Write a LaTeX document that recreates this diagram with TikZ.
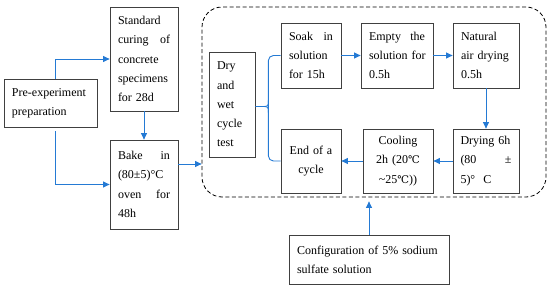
\documentclass[tikz,border=0pt]{standalone}
\usepackage{xcolor}
\usepackage{fontspec}
\setmainfont{Liberation Serif}
\newfontfamily\symfont{DejaVu Serif}
\usepackage{tikz}
\usetikzlibrary{arrows.meta, positioning, calc}
\definecolor{flowblue}{RGB}{36,122,212}
\definecolor{boxgray}{RGB}{64,64,64}
\newcommand{\bodyfs}{\fontsize{12pt}{19.3pt}\selectfont}
\newcommand{\degc}{{\symfont\fontsize{10.5pt}{19.3pt}\selectfont ℃}}

\begin{document}
\begin{tikzpicture}[x=1pt, y=-1pt, font=\bodyfs,
  box/.style={draw=boxgray, line width=0.8pt, inner xsep=8pt, inner ysep=0pt, align=left},
  cbox/.style={box, align=center},
  line/.style={draw=flowblue, line width=0.9pt},
  flow/.style={line, -{Triangle[length=6.5pt,width=6pt]}},
  loopbox/.style={draw=black, line width=0.8pt, dash pattern=on 4pt off 2.5pt, rounded corners=20pt}]
  \useasboundingbox (0,0) rectangle (550,289);

  % Preparation
  \node[box, text width=77pt, minimum height=48pt] (pre) at (50.5,103) {Pre-experiment\\preparation};
  \node[box, text width=52pt, minimum height=104pt] (std) at (144,59) {Standard\\curing\hfill of\\concrete\\specimens\\for~28d};
  \node[box, text width=52pt, minimum height=89pt] (bake) at (144,184.5) {Bake\hfill in\\(80±5)°C\\oven\hfill for\\48h};

  % Dry and wet cycle
  \node[loopbox, minimum width=344pt, minimum height=190pt] (loop) at (374,102) {};
  \node[box, text width=30pt, minimum height=105pt] (dry) at (232,104.5) {Dry\\and\\wet\\cycle\\test};
  \node[box, text width=44pt, minimum height=65pt] (soak) at (311,55.5) {Soak\hfill in\\solution\\for~15h};
  \node[box, text width=56pt, minimum height=65pt] (empty) at (397,55.5) {Empty\hfill the\\solution~for\\0.5h};
  \node[box, text width=50pt, minimum height=65pt] (natural) at (486,55.5) {Natural\\air~drying\\0.5h};
  \node[box, inner xsep=7.5pt, text width=51pt, minimum height=64pt] (drying) at (486,161) {Drying~6h\\(80\hfill ±\\5)°~~C};
  \node[cbox, text width=54pt, minimum height=64pt] (cooling) at (398,161) {Cooling\\2h~(20\degc\\\textasciitilde25\degc))};
  \node[cbox, text width=44pt, minimum height=64pt] (endc) at (311,161) {End~of~a\\cycle};

  % Solution
  \node[box, text width=144pt, minimum height=49pt] (config) at (369,259.5) {Configuration~of~5\%~sodium\\sulfate solution};

  % Connectors
  \coordinate (preup) at ([xshift=4.5pt]pre.north);
  \coordinate (predown) at ([xshift=4.5pt,yshift=-4pt]pre.south);
  \coordinate (bakeout) at ([yshift=20.5pt]bake.east);
  \draw[flow] (preup) |- (std.west);
  \draw[flow] (predown) |- (bake.west);
  \draw[flow] (std) -- (bake);
  \draw[flow] (bakeout) -- (bakeout -| loop.west);
  \draw[flow] (soak) -- (empty);
  \draw[flow] (empty) -- (natural);
  \draw[flow] (natural) -- (drying);
  \draw[flow] (drying) -- (cooling);
  \draw[flow] (cooling) -- (endc);
  \draw[flow, shorten >=4pt] (config) -- (config.north |- loop.south);

  % Brace
  \coordinate (bmid) at ($(dry.east)+(13,2)$);
  \draw[line, rounded corners=5pt] (soak.west) -| (bmid) |- (endc.west);
  \draw[line] ($(bmid)+(0,-6)$) .. controls (bmid) .. ($(bmid)+(-7,0)$) -- (bmid -| dry.east);
  \draw[line] ($(bmid)+(0,6)$) .. controls (bmid) .. ($(bmid)+(-7,0)$);
\end{tikzpicture}
\end{document}
